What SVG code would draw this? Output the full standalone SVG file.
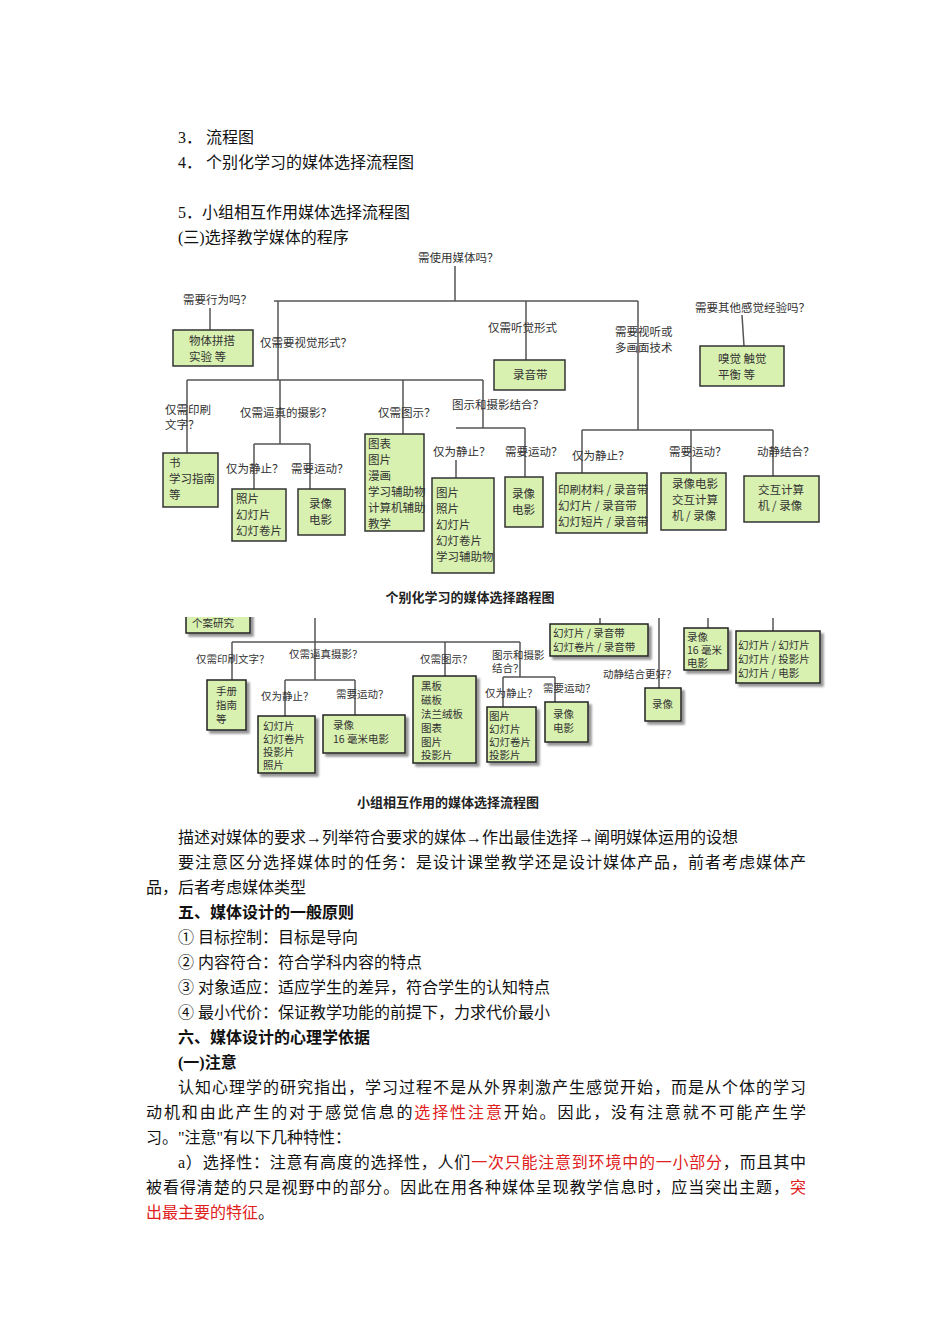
<svg xmlns="http://www.w3.org/2000/svg" width="950" height="1344" viewBox="0 0 950 1344">
<style>
.t{font-family:"Liberation Serif","Noto Sans CJK SC",serif;font-size:16px;fill:#111}
.b{font-weight:bold}
.r{fill:#e02020}
.d{font-family:"Noto Sans CJK SC",sans-serif;font-size:11.5px;fill:#333}
.e{font-family:"Noto Sans CJK SC",sans-serif;font-size:10.5px;fill:#333}
.bx{fill:#d8f0b0;stroke:#333;stroke-width:1.5}
.sh{fill:#d8f0b0;stroke:#222;stroke-width:1.5;filter:url(#s)}
.ln{stroke:#555;stroke-width:1.5;fill:none}
.cap{font-family:"Noto Sans CJK SC",sans-serif;font-size:13px;font-weight:bold;fill:#222}
</style>
<defs><filter id="s" x="-20%" y="-20%" width="150%" height="150%"><feDropShadow dx="3" dy="3" stdDeviation="1.2" flood-color="#666" flood-opacity="0.7"/></filter>
<clipPath id="cp"><rect x="170" y="617" width="670" height="200"/></clipPath></defs>
<rect width="950" height="1344" fill="#fff"/>
<g id="heading">
<text class="t" x="178" y="143">3．  流程图</text>
<text class="t" x="178" y="168">4．  个别化学习的媒体选择流程图</text>
<text class="t" x="178" y="218">5．小组相互作用媒体选择流程图</text>
<text class="t" x="178" y="243">(三)选择教学媒体的程序</text>
</g>
<g id="connectors">
<path class="ln" d="M455 266V301M274 301H638M210 308V330M278 301V380M187 380H483M526 301V360M638 301V430M582 430H773M742 315L744 346M187 380V453M280 380V444M254 444H310M254 444V489M310 444V489M403 380V434M483 380V428M456 428H525M456 460V478M525 428V477M582 430V473M691 430V473M773 430V476"/>
<path class="ln" d="M315 618V680M232 642H520M232 642V680M285 680H355M285 680V716M355 680V715M445 642V676M520 642V677M503 677H555M503 677V707M555 677V702M600 618V624M659 618V688M708 618V628M773 618V631"/>
</g>
<g id="top-tree">
<text class="d" x="418" y="262">需使用媒体吗？</text>
<text class="d" x="183" y="304">需要行为吗？</text>
<g id="n1"><rect class="bx" x="173" y="330" width="80" height="36"/><text class="d" x="189" y="345">物体拼搭</text><text class="d" x="189" y="361">实验 等</text></g>
<text class="d" x="260" y="347">仅需要视觉形式？</text>
<text class="d" x="488" y="332">仅需听觉形式</text>
<g id="n2"><rect class="bx" x="494" y="360" width="71" height="30"/><text class="d" x="513" y="379">录音带</text></g>
<text class="d" x="615" y="336">需要视听或</text><text class="d" x="615" y="352">多画面技术</text>
<text class="d" x="695" y="312">需要其他感觉经验吗？</text>
<g id="n3"><rect class="bx" x="700" y="346" width="84" height="40"/><text class="d" x="718" y="363">嗅觉 触觉</text><text class="d" x="718" y="379">平衡 等</text></g>
<text class="d" x="165" y="414">仅需印刷</text><text class="d" x="165" y="429">文字？</text>
<g id="n4"><rect class="bx" x="163" y="453" width="55" height="54"/><text class="d" x="169" y="467">书</text><text class="d" x="169" y="483">学习指南</text><text class="d" x="169" y="499">等</text></g>
<text class="d" x="240" y="417">仅需逼真的摄影？</text>
<text class="d" x="226" y="473">仅为静止？</text><text class="d" x="291" y="473">需要运动？</text>
<g id="n5"><rect class="bx" x="232" y="489" width="54" height="52"/><text class="d" x="236" y="503">照片</text><text class="d" x="236" y="519">幻灯片</text><text class="d" x="236" y="535">幻灯卷片</text></g>
<g id="n6"><rect class="bx" x="298" y="489" width="47" height="46"/><text class="d" x="309" y="508">录像</text><text class="d" x="309" y="524">电影</text></g>
<text class="d" x="378" y="417">仅需图示？</text>
<g id="n7"><rect class="bx" x="365" y="434" width="59" height="97"/><text class="d" x="368" y="448">图表</text><text class="d" x="368" y="464">图片</text><text class="d" x="368" y="480">漫画</text><text class="d" x="368" y="496">学习辅助物</text><text class="d" x="368" y="512">计算机辅助</text><text class="d" x="368" y="528">教学</text></g>
<text class="d" x="452" y="409">图示和摄影结合？</text>
<text class="d" x="433" y="456">仅为静止？</text><text class="d" x="505" y="456">需要运动？</text>
<g id="n8"><rect class="bx" x="432" y="478" width="62" height="95"/><text class="d" x="436" y="497">图片</text><text class="d" x="436" y="513">照片</text><text class="d" x="436" y="529">幻灯片</text><text class="d" x="436" y="545">幻灯卷片</text><text class="d" x="436" y="561">学习辅助物</text></g>
<g id="n9"><rect class="bx" x="505" y="477" width="38" height="50"/><text class="d" x="512" y="498">录像</text><text class="d" x="512" y="514">电影</text></g>
<text class="d" x="572" y="460">仅为静止？</text><text class="d" x="669" y="456">需要运动？</text><text class="d" x="757" y="456">动静结合？</text>
<g id="n10"><rect class="bx" x="556" y="473" width="91" height="60"/><text class="d" x="558" y="494">印刷材料 / 录音带</text><text class="d" x="558" y="510">幻灯片 / 录音带</text><text class="d" x="558" y="526">幻灯短片 / 录音带</text></g>
<g id="n11"><rect class="bx" x="661" y="473" width="65" height="57"/><text class="d" x="672" y="488">录像电影</text><text class="d" x="672" y="504">交互计算</text><text class="d" x="672" y="520">机 / 录像</text></g>
<g id="n12"><rect class="bx" x="744" y="476" width="75" height="46"/><text class="d" x="758" y="494">交互计算</text><text class="d" x="758" y="510">机 / 录像</text></g>
<text class="cap" x="470" y="602" text-anchor="middle">个别化学习的媒体选择路程图</text>
</g>
<g id="bottom-tree">
<g id="m0" clip-path="url(#cp)"><rect class="sh" x="186" y="608" width="64" height="25"/><text class="e" x="192" y="627">个案研究</text></g>
<text class="e" x="196" y="663">仅需印刷文字？</text>
<text class="e" x="289" y="658">仅需逼真摄影？</text>
<g id="m1"><rect class="sh" x="207" y="680" width="39" height="50"/><text class="e" x="216" y="695">手册</text><text class="e" x="216" y="709">指南</text><text class="e" x="216" y="723">等</text></g>
<text class="e" x="261" y="700">仅为静止？</text><text class="e" x="336" y="698">需要运动？</text>
<g id="m2"><rect class="sh" x="258" y="716" width="57" height="57"/><text class="e" x="263" y="730">幻灯片</text><text class="e" x="263" y="743">幻灯卷片</text><text class="e" x="263" y="756">投影片</text><text class="e" x="263" y="769">照片</text></g>
<g id="m3"><rect class="sh" x="323" y="715" width="82" height="38"/><text class="e" x="333" y="729">录像</text><text class="e" x="333" y="743">16 毫米电影</text></g>
<text class="e" x="420" y="663">仅需图示？</text>
<g id="m4"><rect class="sh" x="413" y="676" width="63" height="87"/><text class="e" x="421" y="690">黑板</text><text class="e" x="421" y="704">磁板</text><text class="e" x="421" y="718">法兰绒板</text><text class="e" x="421" y="732">图表</text><text class="e" x="421" y="746">图片</text><text class="e" x="421" y="759">投影片</text></g>
<text class="e" x="492" y="659">图示和摄影</text><text class="e" x="492" y="672">结合？</text>
<text class="e" x="485" y="697">仅为静止？</text><text class="e" x="543" y="692">需要运动？</text>
<g id="m5"><rect class="sh" x="487" y="707" width="49" height="55"/><text class="e" x="489" y="720">图片</text><text class="e" x="489" y="733">幻灯片</text><text class="e" x="489" y="746">幻灯卷片</text><text class="e" x="489" y="759">投影片</text></g>
<g id="m6"><rect class="sh" x="545" y="702" width="43" height="40"/><text class="e" x="553" y="718">录像</text><text class="e" x="553" y="732">电影</text></g>
<g id="m7"><rect class="sh" x="550" y="624" width="98" height="32"/><text class="e" x="553" y="637">幻灯片 / 录音带</text><text class="e" x="553" y="651">幻灯卷片 / 录音带</text></g>
<text class="e" x="603" y="678">动静结合更好？</text>
<g id="m8"><rect class="sh" x="645" y="688" width="36" height="33"/><text class="e" x="652" y="708">录像</text></g>
<g id="m9"><rect class="sh" x="684" y="628" width="44" height="42"/><text class="e" x="687" y="641">录像</text><text class="e" x="687" y="654">16 毫米</text><text class="e" x="687" y="667">电影</text></g>
<g id="m10"><rect class="sh" x="736" y="631" width="84" height="52"/><text class="e" x="738" y="649">幻灯片 / 幻灯片</text><text class="e" x="738" y="663">幻灯片 / 投影片</text><text class="e" x="738" y="677">幻灯片 / 电影</text></g>
<text class="cap" x="448" y="807" text-anchor="middle">小组相互作用的媒体选择流程图</text>
</g>
<g id="body">
<text class="t" x="178" y="843">描述对媒体的要求→列举符合要求的媒体→作出最佳选择→阐明媒体运用的设想</text>
<text class="t" x="178" y="868" textLength="628" lengthAdjust="spacing">要注意区分选择媒体时的任务：是设计课堂教学还是设计媒体产品，前者考虑媒体产</text>
<text class="t" x="146" y="893">品，后者考虑媒体类型</text>
<text class="t b" x="178" y="918">五、媒体设计的一般原则</text>
<text class="t" x="178" y="943">① 目标控制：目标是导向</text>
<text class="t" x="178" y="968">② 内容符合：符合学科内容的特点</text>
<text class="t" x="178" y="993">③ 对象适应：适应学生的差异，符合学生的认知特点</text>
<text class="t" x="178" y="1018">④ 最小代价：保证教学功能的前提下，力求代价最小</text>
<text class="t b" x="178" y="1043">六、媒体设计的心理学依据</text>
<text class="t b" x="178" y="1068">(一)注意</text>
<text class="t" x="178" y="1093" textLength="628" lengthAdjust="spacing">认知心理学的研究指出，学习过程不是从外界刺激产生感觉开始，而是从个体的学习</text>
<text class="t" x="146" y="1118" textLength="660" lengthAdjust="spacing">动机和由此产生的对于感觉信息的<tspan class="r">选择性注意</tspan>开始。因此，没有注意就不可能产生学</text>
<text class="t" x="146" y="1143">习。"注意"有以下几种特性：</text>
<text class="t" x="178" y="1168" textLength="628" lengthAdjust="spacing">a）选择性：注意有高度的选择性，人们<tspan class="r">一次只能注意到环境中的一小部分</tspan>，而且其中</text>
<text class="t" x="146" y="1193" textLength="660" lengthAdjust="spacing">被看得清楚的只是视野中的部分。因此在用各种媒体呈现教学信息时，应当突出主题，<tspan class="r">突</tspan></text>
<text class="t r" x="146" y="1218">出最主要的特征<tspan fill="#111">。</tspan></text>
</g>
</svg>
